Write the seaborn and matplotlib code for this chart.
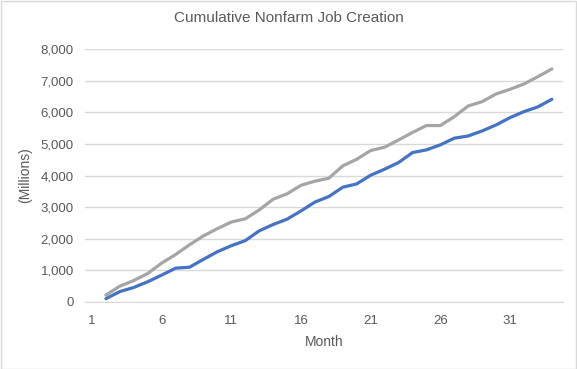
import numpy as np
import pandas as pd
import matplotlib
matplotlib.use('Agg')
import matplotlib.pyplot as plt
import seaborn as sns

# cumulative job creation, months 2..34
months = list(range(2, 35))
series_blue = [105, 330, 460, 640, 850, 1070, 1100, 1350, 1590, 1780, 1940, 2250, 2450, 2620,
               2880, 3160, 3335, 3630, 3735, 4010, 4200, 4410, 4725, 4810, 4970, 5180, 5250,
               5410, 5600, 5830, 6020, 6170, 6410]
series_gray = [220, 500, 680, 900, 1230, 1500, 1810, 2090, 2320, 2530, 2630, 2910, 3250, 3420,
               3690, 3820, 3915, 4305, 4515, 4790, 4895, 5125, 5360, 5580, 5580, 5860, 6200,
               6335, 6580, 6725, 6895, 7125, 7370]
x_ticks = [1, 6, 11, 16, 21, 26, 31]
y_ticks = [0, 1000, 2000, 3000, 4000, 5000, 6000, 7000, 8000]

df = pd.concat([
    pd.DataFrame({'Month': months, 'Jobs': series_blue, 'series': 'blue'}),
    pd.DataFrame({'Month': months, 'Jobs': series_gray, 'series': 'gray'}),
])

sns.set_style('white')
plt.rcParams['font.family'] = ['Liberation Sans Narrow', 'Liberation Sans', 'DejaVu Sans']
txt = '#595959'
grid = '#d9d9d9'

fig = plt.figure(figsize=(5.77, 3.69), dpi=100)
ax = fig.add_axes([85 / 577, 1 - 302 / 369, (563 - 85) / 577, (302 - 49) / 369])

sns.lineplot(data=df, x='Month', y='Jobs', hue='series', hue_order=['gray', 'blue'],
             palette={'blue': '#4472C4', 'gray': '#A5A5A5'}, linewidth=2.3, legend=False, ax=ax)

ax.set_xlim(0.5, 34.8)
ax.set_ylim(0, 8000)
ax.set_xticks(x_ticks)
ax.set_yticks(y_ticks)
ax.set_yticklabels([f'{v:,}' for v in y_ticks])
ax.yaxis.grid(True, color=grid, linewidth=1)
ax.set_axisbelow(True)
for s in ['top', 'right', 'left']:
    ax.spines[s].set_visible(False)
ax.spines['bottom'].set_color(grid)
ax.tick_params(axis='both', length=0, labelsize=9.5, colors=txt)
ax.tick_params(axis='x', pad=9)
ax.tick_params(axis='y', pad=8)
ax.set_xlabel('Month', fontsize=10, color=txt, labelpad=6)
ax.set_ylabel('(Millions)', fontsize=10, color=txt, labelpad=6)
fig.suptitle('Cumulative Nonfarm Job Creation', fontsize=11, color=txt, x=0.5, y=0.97)

fig.patches.append(plt.Rectangle((0.001, 0.001), 0.997, 0.997, transform=fig.transFigure,
                                 fill=False, edgecolor=grid, linewidth=1))

fig.savefig('out.png', dpi=100)
